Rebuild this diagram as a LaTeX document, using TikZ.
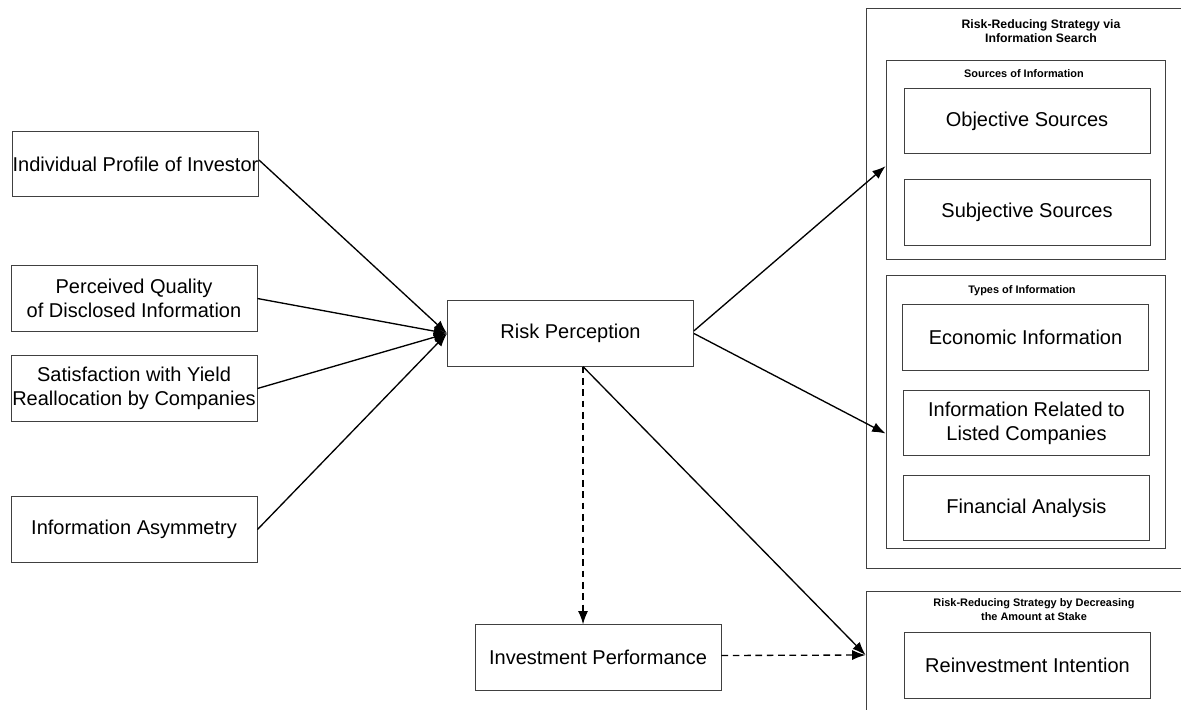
\documentclass[tikz,border=0pt]{standalone}
\usepackage{fontspec}
\setmainfont{Liberation Sans}
\usetikzlibrary{arrows.meta}
\tikzset{
	box/.style={draw=black!75,line width=0.7pt,minimum width=184.5pt,minimum height=49pt,inner sep=0pt,align=center,font=\fontsize{15}{18}\selectfont},
	grp/.style 2 args={draw=black!75,line width=0.7pt,minimum width=#1,minimum height=#2,inner sep=0pt},
	ttl/.style={align=center,font=\bfseries\fontsize{8.2}{10.5}\selectfont},
	arr/.style={-{Latex[length=10pt,width=7.5pt]},line width=1pt},
	darr/.style={arr,dash pattern=on 5pt off 3.5pt}
}
\begin{document}
\begin{tikzpicture}[x=0.75pt,y=-0.75pt]
	\useasboundingbox (0,0) rectangle (1181,710);

	% left side
	\node [box] (profile) at (135.5,164) {Individual Profile of Investor};
	\node [box] (quality) at (134,298.5) {Perceived Quality\\of Disclosed Information};
	\node [box] (satisf) at (134,388.5) {Satisfaction with Yield\\Reallocation by Companies};
	\node [box] (asym) at (134,529.5) {Information Asymmetry};

	\node [box] (risk) at (570.5,333.5) {Risk Perception};
	\node [box] (invest) at (598,657.5) {Investment Performance};

	% right side
	\node [grp={243pt}{420pt}] (search) at (1028,288) {};
	\node [ttl,font=\bfseries\fontsize{9.2}{10.5}\selectfont] (searchttl) at (1041,31) {Risk-Reducing Strategy via\\Information Search};
	\node [grp={209.25pt}{149.25pt}] (sources) at (1025.5,159.5) {};
	\node [ttl] (sourcesttl) at (1024,74) {Sources of Information};
	\node [box] (objective) at (1027,121) {Objective Sources};
	\node [box] (subjective) at (1027,212.5) {Subjective Sources};
	\node [grp={209.25pt}{204.75pt}] (types) at (1025.5,411.5) {};
	\node [ttl] (typesttl) at (1022,291) {Types of Information};
	\node [box] (economic) at (1025.5,337.5) {Economic Information};
	\node [box] (listed) at (1026.5,423) {Information Related to\\Listed Companies};
	\node [box] (finance) at (1026.5,508) {Financial Analysis};

	\node [grp={243pt}{96pt}] (stake) at (1028,655) {};
	\node [ttl] (stakettl) at (1034,610) {Risk-Reducing Strategy by Decreasing\\the Amount at Stake};
	\node [box] (reinvest) at (1027.5,665.5) {Reinvestment Intention};

	% connectors
	\draw [arr] ([yshift=3pt]profile.east) -- (risk.west);
	\draw [arr] (quality.east) -- (risk.west);
	\draw [arr] (satisf.east) -- (risk.west);
	\draw [arr] (asym.east) -- (risk.west);
	\draw [arr] ([yshift=2pt]risk.east) -- ([yshift=-5pt]sources.west);
	\draw [arr] (risk.east) -- ([yshift=-16.5pt]types.west);
	\draw [darr] ([xshift=9.4pt]risk.south) -- ([xshift=9.4pt]risk.south |- invest.north);
	\draw [arr] ([xshift=9.4pt]risk.south) -- (stake.west);
	\draw [darr] ([yshift=1.5pt]invest.east) -- (stake.west);
\end{tikzpicture}
\end{document}
